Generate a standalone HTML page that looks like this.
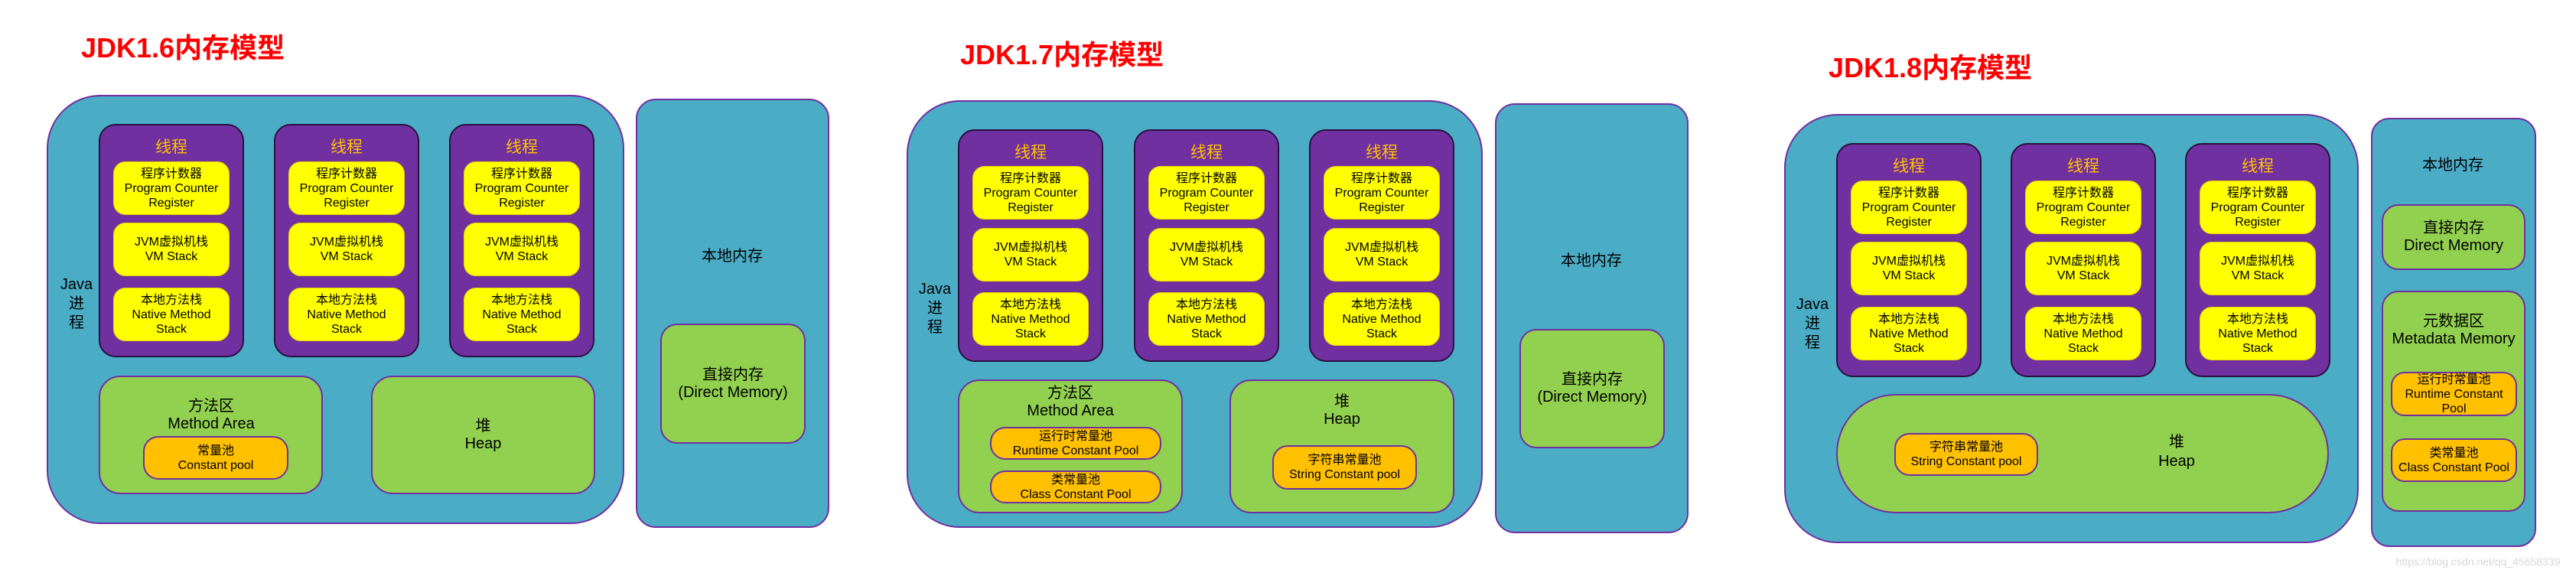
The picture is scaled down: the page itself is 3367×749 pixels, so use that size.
<!DOCTYPE html>
<html><head><meta charset="utf-8">
<style>
body{margin:0;width:3367px;height:749px;background:#fff;position:relative;overflow:hidden;font-family:"Liberation Sans","Noto Sans CJK SC",sans-serif;}
.b{position:absolute;box-sizing:border-box;display:flex;flex-direction:column;align-items:center;justify-content:center;text-align:center;color:#000;}
.blue{background:#4bacc6;border:2px solid #7030a0;}
.th{background:#7030a0;border:2px solid #2a1040;border-radius:22px;}
.y{background:#ffff00;border:1px solid #e8d000;border-radius:16px;font-size:16px;line-height:19px;width:152px;height:70px;}
.g{background:#92d050;border:2px solid #7030a0;}
.o{background:#ffc000;border:2px solid #7030a0;font-size:16px;line-height:19px;}
.t{position:absolute;text-align:center;white-space:nowrap;}
.title{position:absolute;color:#ff0000;font-weight:bold;font-size:36px;white-space:nowrap;}
.tl{position:absolute;width:190px;text-align:center;color:#ffc000;font-size:21px;}
</style></head><body>

<!-- ===== Panel 1 ===== -->
<div class="title" style="left:106px;top:34px;">JDK1.6内存模型</div>
<div class="b blue" style="left:61px;top:124px;width:755px;height:561px;border-radius:70px;"></div>
<div class="t" style="left:60px;top:360px;width:80px;font-size:20px;line-height:25px;">Java<br>进<br>程</div>

<div class="b th" style="left:129px;top:162px;width:190px;height:305px;"></div>
<div class="b th" style="left:358px;top:162px;width:190px;height:305px;"></div>
<div class="b th" style="left:587px;top:162px;width:190px;height:305px;"></div>
<div class="tl" style="left:129px;top:176px;">线程</div>
<div class="tl" style="left:358px;top:176px;">线程</div>
<div class="tl" style="left:587px;top:176px;">线程</div>

<div class="b y" style="left:148px;top:211px;">程序计数器<br>Program Counter<br>Register</div>
<div class="b y" style="left:148px;top:291px;">JVM虚拟机栈<br>VM Stack</div>
<div class="b y" style="left:148px;top:376px;">本地方法栈<br>Native Method<br>Stack</div>
<div class="b y" style="left:377px;top:211px;">程序计数器<br>Program Counter<br>Register</div>
<div class="b y" style="left:377px;top:291px;">JVM虚拟机栈<br>VM Stack</div>
<div class="b y" style="left:377px;top:376px;">本地方法栈<br>Native Method<br>Stack</div>
<div class="b y" style="left:606px;top:211px;">程序计数器<br>Program Counter<br>Register</div>
<div class="b y" style="left:606px;top:291px;">JVM虚拟机栈<br>VM Stack</div>
<div class="b y" style="left:606px;top:376px;">本地方法栈<br>Native Method<br>Stack</div>

<div class="b g" style="left:129px;top:491px;width:293px;height:155px;border-radius:28px;"></div>
<div class="t" style="left:176px;top:520px;width:200px;font-size:20px;line-height:23px;">方法区<br>Method Area</div>
<div class="b o" style="left:187px;top:570px;width:190px;height:57px;border-radius:20px;">常量池<br>Constant pool</div>
<div class="b g" style="left:485px;top:491px;width:293px;height:155px;border-radius:28px;font-size:20px;line-height:23px;">堆<br>Heap</div>

<div class="b blue" style="left:831px;top:129px;width:253px;height:561px;border-radius:26px;"></div>
<div class="t" style="left:857px;top:318px;width:200px;font-size:20px;">本地内存</div>
<div class="b g" style="left:863px;top:423px;width:190px;height:157px;border-radius:22px;font-size:20px;line-height:23px;">直接内存<br>(Direct Memory)</div>

<!-- ===== Panel 2 ===== -->
<div class="title" style="left:1255px;top:43px;">JDK1.7内存模型</div>
<div class="b blue" style="left:1185px;top:131px;width:753px;height:559px;border-radius:70px;"></div>
<div class="t" style="left:1182px;top:366px;width:80px;font-size:20px;line-height:25px;">Java<br>进<br>程</div>

<div class="b th" style="left:1252px;top:169px;width:190px;height:304px;"></div>
<div class="b th" style="left:1482px;top:169px;width:190px;height:304px;"></div>
<div class="b th" style="left:1711px;top:169px;width:190px;height:304px;"></div>
<div class="tl" style="left:1252px;top:183px;">线程</div>
<div class="tl" style="left:1482px;top:183px;">线程</div>
<div class="tl" style="left:1711px;top:183px;">线程</div>

<div class="b y" style="left:1271px;top:217px;">程序计数器<br>Program Counter<br>Register</div>
<div class="b y" style="left:1271px;top:298px;">JVM虚拟机栈<br>VM Stack</div>
<div class="b y" style="left:1271px;top:382px;">本地方法栈<br>Native Method<br>Stack</div>
<div class="b y" style="left:1501px;top:217px;">程序计数器<br>Program Counter<br>Register</div>
<div class="b y" style="left:1501px;top:298px;">JVM虚拟机栈<br>VM Stack</div>
<div class="b y" style="left:1501px;top:382px;">本地方法栈<br>Native Method<br>Stack</div>
<div class="b y" style="left:1730px;top:217px;">程序计数器<br>Program Counter<br>Register</div>
<div class="b y" style="left:1730px;top:298px;">JVM虚拟机栈<br>VM Stack</div>
<div class="b y" style="left:1730px;top:382px;">本地方法栈<br>Native Method<br>Stack</div>

<div class="b g" style="left:1252px;top:496px;width:294px;height:175px;border-radius:28px;"></div>
<div class="t" style="left:1299px;top:503px;width:200px;font-size:20px;line-height:23px;">方法区<br>Method Area</div>
<div class="b o" style="left:1294px;top:558px;width:224px;height:43px;border-radius:20px;">运行时常量池<br>Runtime Constant Pool</div>
<div class="b o" style="left:1294px;top:615px;width:224px;height:43px;border-radius:20px;">类常量池<br>Class Constant Pool</div>
<div class="b g" style="left:1607px;top:496px;width:294px;height:175px;border-radius:28px;"></div>
<div class="t" style="left:1654px;top:514px;width:200px;font-size:20px;line-height:23px;">堆<br>Heap</div>
<div class="b o" style="left:1663px;top:582px;width:189px;height:58px;border-radius:20px;">字符串常量池<br>String Constant pool</div>

<div class="b blue" style="left:1954px;top:135px;width:253px;height:562px;border-radius:26px;"></div>
<div class="t" style="left:1980px;top:324px;width:200px;font-size:20px;">本地内存</div>
<div class="b g" style="left:1986px;top:430px;width:190px;height:156px;border-radius:22px;font-size:20px;line-height:23px;">直接内存<br>(Direct Memory)</div>

<!-- ===== Panel 3 ===== -->
<div class="title" style="left:2390px;top:60px;">JDK1.8内存模型</div>
<div class="b blue" style="left:2332px;top:149px;width:751px;height:561px;border-radius:70px;"></div>
<div class="t" style="left:2329px;top:386px;width:80px;font-size:20px;line-height:25px;">Java<br>进<br>程</div>

<div class="b th" style="left:2400px;top:187px;width:190px;height:306px;"></div>
<div class="b th" style="left:2628px;top:187px;width:190px;height:306px;"></div>
<div class="b th" style="left:2856px;top:187px;width:190px;height:306px;"></div>
<div class="tl" style="left:2400px;top:201px;">线程</div>
<div class="tl" style="left:2628px;top:201px;">线程</div>
<div class="tl" style="left:2856px;top:201px;">线程</div>

<div class="b y" style="left:2419px;top:236px;">程序计数器<br>Program Counter<br>Register</div>
<div class="b y" style="left:2419px;top:316px;">JVM虚拟机栈<br>VM Stack</div>
<div class="b y" style="left:2419px;top:401px;">本地方法栈<br>Native Method<br>Stack</div>
<div class="b y" style="left:2647px;top:236px;">程序计数器<br>Program Counter<br>Register</div>
<div class="b y" style="left:2647px;top:316px;">JVM虚拟机栈<br>VM Stack</div>
<div class="b y" style="left:2647px;top:401px;">本地方法栈<br>Native Method<br>Stack</div>
<div class="b y" style="left:2875px;top:236px;">程序计数器<br>Program Counter<br>Register</div>
<div class="b y" style="left:2875px;top:316px;">JVM虚拟机栈<br>VM Stack</div>
<div class="b y" style="left:2875px;top:401px;">本地方法栈<br>Native Method<br>Stack</div>

<div class="b g" style="left:2400px;top:515px;width:644px;height:156px;border-radius:78px;"></div>
<div class="t" style="left:2745px;top:566px;width:200px;font-size:20px;line-height:25px;">堆<br>Heap</div>
<div class="b o" style="left:2476px;top:566px;width:188px;height:56px;border-radius:20px;">字符串常量池<br>String Constant pool</div>

<div class="b blue" style="left:3099px;top:154px;width:216px;height:561px;border-radius:24px;"></div>
<div class="t" style="left:3106px;top:199px;width:200px;font-size:20px;">本地内存</div>
<div class="b g" style="left:3113px;top:267px;width:188px;height:86px;border-radius:22px;font-size:20px;line-height:23px;">直接内存<br>Direct Memory</div>
<div class="b g" style="left:3113px;top:380px;width:188px;height:289px;border-radius:22px;"></div>
<div class="t" style="left:3107px;top:409px;width:200px;font-size:20px;line-height:23px;">元数据区<br>Metadata Memory</div>
<div class="b o" style="left:3125px;top:486px;width:165px;height:58px;border-radius:18px;">运行时常量池<br>Runtime Constant<br>Pool</div>
<div class="b o" style="left:3125px;top:573px;width:165px;height:57px;border-radius:18px;">类常量池<br>Class Constant Pool</div>

<div class="t" style="left:3114px;top:726px;width:250px;font-size:14px;color:#d8d8d8;">https://blog.csdn.net/qq_45658339</div>
</body></html>
